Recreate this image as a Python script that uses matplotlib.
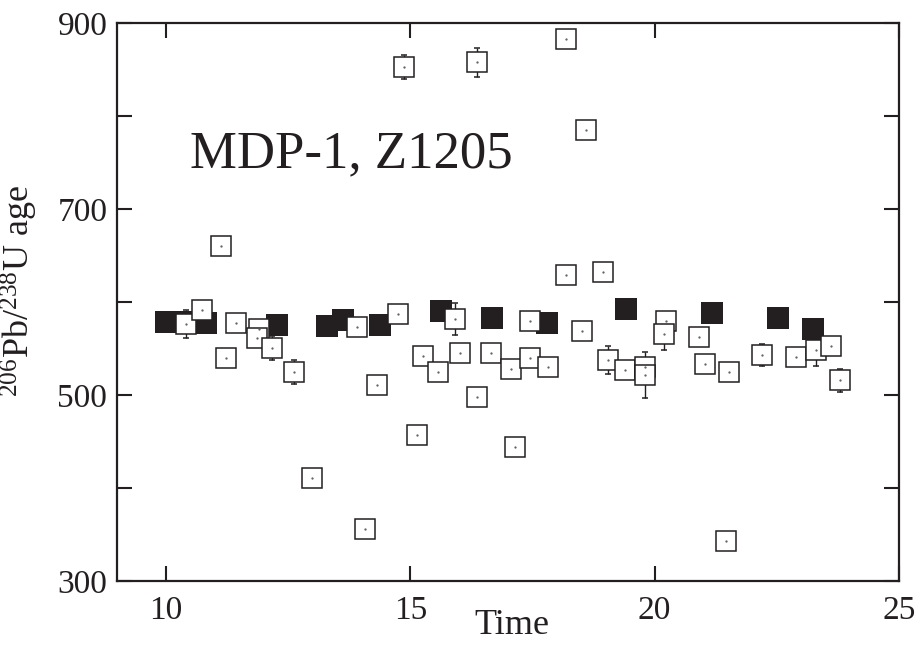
import matplotlib
matplotlib.use("Agg")
import matplotlib.pyplot as plt
from matplotlib.ticker import FixedLocator

plt.rcParams["font.family"] = ["Liberation Serif", "DejaVu Serif"]
plt.rcParams["mathtext.fontset"] = "custom"
plt.rcParams["mathtext.rm"] = "Liberation Serif"
plt.rcParams["mathtext.it"] = "Liberation Serif:italic"

# --- data ---
# filled squares
filled_time = [10.00, 10.31, 10.83, 12.28, 13.29, 13.62, 14.38, 15.63,
               16.67, 17.79, 19.41, 21.17, 22.52, 23.25]
filled_age = [579, 579, 578, 576, 575, 581, 576, 591,
              583, 578, 593, 588, 583, 571]

# open squares with error bars
open_time = [10.42, 10.73, 11.12, 11.22, 11.43, 11.90, 11.86, 12.17, 12.63,
             12.99, 13.91, 14.08, 14.32, 14.75, 14.87, 15.14, 15.27, 15.56,
             15.91, 16.02, 16.36, 16.37, 16.66, 17.06, 17.14, 17.45, 17.44,
             17.81, 18.18, 18.19, 18.52, 18.59, 18.94, 19.04, 19.39, 19.81,
             19.81, 20.23, 20.19, 20.90, 21.03, 21.46, 21.53, 22.20, 22.89,
             23.30, 23.61, 23.80]
open_age = [577, 592, 661, 540, 578, 571, 562, 551, 525,
            411, 574, 356, 511, 587, 853, 457, 542, 525,
            582, 545, 858, 498, 546, 528, 444, 580, 540,
            530, 629, 883, 569, 785, 633, 538, 527, 530,
            522, 580, 566, 563, 534, 343, 525, 543, 541,
            549, 553, 516]
open_err = [15, 8, 6, 6, 6, 6, 6, 13, 13,
            5, 6, 5, 6, 7, 13, 5, 6, 6,
            17, 6, 16, 6, 6, 6, 5, 6, 6,
            6, 6, 5, 6, 6, 6, 15, 6, 6,
            25, 6, 17, 6, 8, 5, 6, 12, 7,
            17, 8, 12]

y_labeled = [300, 500, 700, 900]
y_unlabeled = [400, 600, 800]
x_ticks = [10, 15, 20, 25]

ink = "#231f20"

fig = plt.figure(figsize=(9.18, 6.48), dpi=100)
ax = fig.add_axes([0.1275, 0.1029, 0.8518, 0.8611])

# open squares: bars at zorder 2, markers at 2.1
ax.errorbar(open_time, open_age, yerr=open_err, fmt="s", ms=14.5,
            mfc="white", mec=ink, mew=1.1, ecolor=ink, elinewidth=1.0,
            capsize=2.5, capthick=1.6, zorder=2)
# tiny dot in the middle of each open square
ax.plot(open_time, open_age, ".", ms=1.2, color="#555555", zorder=3)

# filled squares sit above the bars but under the open markers
ax.plot(filled_time, filled_age, "s", ms=15.5, mfc=ink, mec=ink, mew=0,
        linestyle="none", zorder=2.05)

ax.set_xlim(9, 25)
ax.set_ylim(300, 900)
ax.xaxis.set_major_locator(FixedLocator(x_ticks))
ax.yaxis.set_major_locator(FixedLocator(y_labeled))
ax.yaxis.set_minor_locator(FixedLocator(y_unlabeled))

ax.tick_params(which="both", direction="in", top=True, right=True,
               length=11, width=1.5, color=ink)
ax.tick_params(axis="y", labelsize=24, pad=7, labelcolor=ink)
ax.tick_params(axis="x", labelsize=24, pad=10, labelcolor=ink)
for s in ax.spines.values():
    s.set_linewidth(1.6)
    s.set_color(ink)

ax.set_xlabel("Time", fontsize=26, color=ink)
ax.xaxis.set_label_coords(0.505, -0.05)
ax.set_ylabel(r"$^{206}$Pb/$^{238}$U age", fontsize=26, color=ink)
ax.yaxis.set_label_coords(-0.098, 0.52)

ax.text(0.093, 0.742, "MDP-1, Z1205", transform=ax.transAxes,
        fontsize=38, color=ink, ha="left", va="baseline")

plt.savefig("out.png", dpi=100)
